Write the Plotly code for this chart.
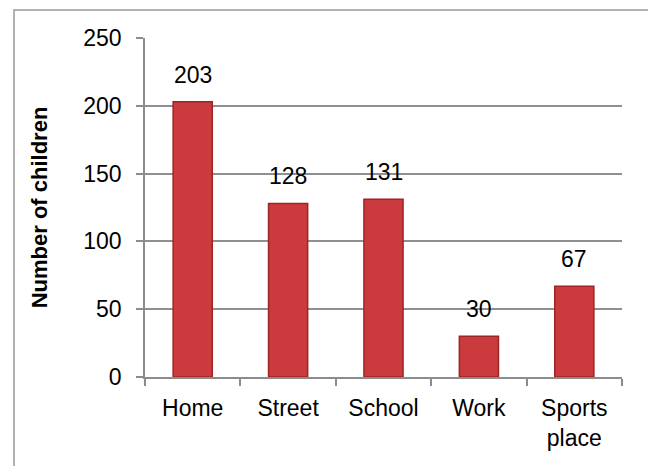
import plotly.graph_objects as go

categories = ["Home", "Street", "School", "Work", "Sports<br>place"]
values = [203, 128, 131, 30, 67]
y_ticks = [0, 50, 100, 150, 200, 250]

FONT = "Liberation Sans"
FS = 23

fig = go.Figure()
fig.add_trace(go.Bar(
    x=categories, y=values, width=0.41,
    marker=dict(color="#CB3A3C", line=dict(color="#9E2527", width=1.5)),
    hoverinfo="skip",
))

for c, v in zip(categories, values):
    fig.add_annotation(x=c, y=v, text=str(v), showarrow=False,
                       yanchor="middle", yshift=27,
                       font=dict(family=FONT, size=FS, color="#000000"))

fig.add_shape(type="rect", xref="paper", yref="paper",
              x0=-0.2746, x1=1.2, y0=-0.5, y1=1.0826,
              line=dict(color="#9a9a9a", width=1.5), fillcolor="rgba(0,0,0,0)",
              layer="below")

fig.update_layout(
    width=648, height=466,
    margin=dict(l=145, r=26, t=38, b=89),
    paper_bgcolor="white", plot_bgcolor="white",
    showlegend=False,
    font=dict(family=FONT, size=FS, color="#000000"),
    bargap=0.59,
)
fig.update_xaxes(
    type="category", showgrid=False, showline=True, linecolor="#8c8c8c", linewidth=1.5,
    ticks="outside", tickson="boundaries", ticklen=7, tickcolor="#8c8c8c", tickwidth=1.5,
    ticklabelstandoff=10,
    tickfont=dict(family=FONT, size=FS, color="#000000"),
)
fig.update_yaxes(
    range=[0, 250], tickvals=y_ticks, showgrid=True, gridcolor="#8f8f8f", gridwidth=1.5,
    showline=True, linecolor="#8c8c8c", linewidth=1.5, zeroline=False,
    ticks="outside", ticklen=7, tickcolor="#8c8c8c", tickwidth=1.5,
    ticklabelstandoff=10,
    tickfont=dict(family=FONT, size=FS, color="#000000"),
    title=dict(text="<b>Number of children</b>", standoff=30,
               font=dict(family=FONT, size=22, color="#000000")),
)

fig.write_html("out.html")
